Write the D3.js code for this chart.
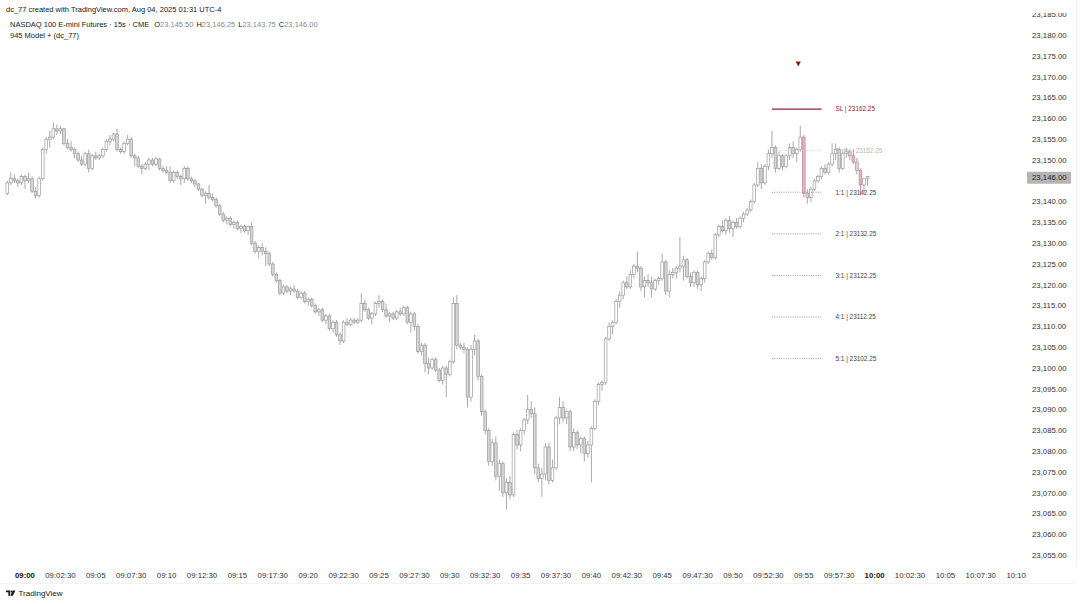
<!DOCTYPE html>
<html><head><meta charset="utf-8">
<script src="https://cdn.jsdelivr.net/npm/d3@7"></script>
<style>
html,body{margin:0;padding:0;background:#fff;}
svg{display:block;font-family:"Liberation Sans",Arial,sans-serif;}
</style></head>
<body>
<svg id="chart" width="1080" height="604"></svg>
<script>
// ---------- DATA ----------
const headerLine = "dc_77 created with TradingView.com, Aug 04, 2025 01:31 UTC-4";
const symbolTitle = "NASDAQ 100 E-mini Futures · 15s · CME";
const lastOHLC = [["O","23,145.50"],["H","23,146.25"],["L","23,143.75"],["C","23,146.00"]];
const studyTitle = "945 Model + (dc_77)";
const firstBar = "08:58:45";      // bars every 15 seconds
const barSeconds = 15;
// [open, high, low, close]
const ohlc = [
[23142.0,23145.0,23141.5,23144.5],[23144.5,23147.0,23144.0,23145.5],[23145.5,23146.5,23144.5,23145.0],[23145.0,23145.5,23143.5,23144.5],[23144.5,23146.5,23144.0,23146.0],
[23146.0,23146.5,23143.0,23145.0],[23145.0,23147.0,23144.5,23145.5],[23145.5,23146.0,23142.0,23142.5],[23142.5,23143.5,23140.75,23141.5],[23141.5,23146.0,23141.0,23145.5],
[23145.5,23153.0,23145.0,23152.5],[23152.5,23155.5,23151.5,23155.0],[23155.0,23157.0,23153.0,23155.5],[23155.5,23159.0,23155.0,23157.5],[23157.5,23158.5,23156.0,23157.0],
[23157.0,23158.25,23156.25,23157.5],[23157.5,23157.75,23153.5,23154.0],[23154.0,23155.0,23152.5,23153.0],[23153.0,23154.5,23152.0,23152.5],[23152.5,23153.0,23150.5,23151.5],
[23151.5,23152.0,23149.5,23150.0],[23150.0,23151.0,23148.5,23149.0],[23149.0,23152.0,23148.5,23151.5],[23151.5,23152.5,23147.0,23148.0],[23148.0,23151.5,23147.5,23151.0],
[23151.0,23152.0,23150.0,23150.5],[23150.5,23151.5,23150.0,23151.0],[23151.0,23153.0,23150.5,23152.5],[23152.5,23155.0,23152.0,23154.5],[23154.5,23156.0,23153.5,23155.0],
[23155.0,23156.5,23154.5,23156.25],[23156.25,23157.5,23152.0,23152.5],[23152.5,23153.0,23151.5,23152.0],[23152.0,23154.5,23151.5,23154.0],[23154.0,23156.0,23153.5,23155.0],
[23155.0,23155.5,23150.5,23151.0],[23151.0,23151.5,23148.5,23150.5],[23150.5,23151.0,23148.0,23148.5],[23148.5,23149.0,23146.5,23148.0],[23148.0,23149.5,23147.5,23149.0],
[23149.0,23150.5,23147.5,23150.0],[23150.0,23150.5,23148.5,23149.0],[23149.0,23150.75,23148.5,23150.25],[23150.25,23150.5,23147.5,23148.0],[23148.0,23148.5,23147.0,23147.5],
[23147.5,23148.5,23146.75,23147.0],[23147.0,23148.5,23144.5,23145.0],[23145.0,23147.5,23144.5,23147.0],[23147.0,23147.5,23145.5,23146.0],[23146.0,23146.5,23144.0,23145.5],
[23145.5,23148.5,23144.5,23148.0],[23148.0,23148.5,23145.0,23145.5],[23145.5,23146.0,23144.5,23145.0],[23145.0,23145.5,23143.5,23144.25],[23144.25,23144.5,23142.5,23143.0],
[23143.0,23143.25,23141.0,23141.5],[23141.5,23142.5,23139.5,23142.0],[23142.0,23144.0,23140.5,23141.0],[23141.0,23142.0,23140.0,23140.5],[23140.5,23141.0,23138.5,23139.0],
[23139.0,23139.5,23136.5,23137.0],[23137.0,23137.5,23135.0,23135.5],[23135.5,23136.5,23134.5,23136.0],[23136.0,23136.5,23134.0,23134.5],[23134.5,23135.5,23133.5,23135.0],
[23135.0,23135.5,23133.0,23133.5],[23133.5,23134.5,23132.5,23134.0],[23134.0,23134.5,23132.5,23133.0],[23133.0,23134.25,23132.0,23134.0],[23134.0,23135.0,23129.5,23130.0],
[23130.0,23130.5,23127.5,23128.0],[23128.0,23129.5,23126.5,23129.0],[23129.0,23130.0,23127.0,23128.0],[23128.0,23129.0,23124.5,23127.5],[23127.5,23128.0,23124.5,23125.0],
[23125.0,23125.5,23122.0,23122.5],[23122.5,23123.0,23120.5,23121.0],[23121.0,23121.5,23117.5,23118.0],[23118.0,23120.0,23117.5,23119.5],[23119.5,23120.0,23118.0,23118.5],
[23118.5,23119.5,23117.5,23119.0],[23119.0,23120.0,23118.0,23118.5],[23118.5,23119.0,23116.5,23117.0],[23117.0,23118.5,23116.5,23118.0],[23118.0,23118.5,23115.5,23116.0],
[23116.0,23117.0,23115.0,23116.5],[23116.5,23117.0,23114.5,23115.0],[23115.0,23115.5,23113.0,23113.5],[23113.5,23114.5,23112.5,23114.0],[23114.0,23114.5,23111.0,23111.5],
[23111.5,23113.0,23110.5,23112.5],[23112.5,23113.0,23109.0,23109.5],[23109.5,23111.5,23108.5,23111.0],[23111.0,23111.5,23107.5,23108.0],[23108.0,23108.5,23105.5,23106.5],
[23106.5,23111.5,23106.0,23111.0],[23111.0,23112.0,23110.0,23110.5],[23110.5,23112.0,23110.0,23111.5],[23111.5,23112.0,23110.5,23111.0],[23111.0,23112.0,23110.5,23111.5],
[23111.5,23118.0,23111.0,23115.5],[23115.5,23116.5,23113.5,23114.0],[23114.0,23114.5,23111.5,23112.0],[23112.0,23113.5,23110.5,23113.0],[23113.0,23116.0,23112.5,23115.5],
[23115.5,23117.5,23114.5,23116.0],[23116.0,23116.5,23113.5,23114.0],[23114.0,23115.5,23112.0,23112.5],[23112.5,23113.5,23111.0,23113.0],[23113.0,23113.5,23111.5,23112.0],
[23112.0,23114.0,23111.5,23113.5],[23113.5,23114.5,23112.5,23113.0],[23113.0,23115.0,23112.5,23114.5],[23114.5,23115.0,23110.5,23111.0],[23111.0,23113.5,23108.5,23113.0],
[23113.0,23113.5,23109.0,23110.0],[23110.0,23110.5,23103.5,23104.0],[23104.0,23106.0,23103.0,23105.5],[23105.5,23106.0,23099.0,23101.0],[23101.0,23102.5,23098.5,23100.0],
[23100.0,23102.5,23099.5,23102.0],[23102.0,23102.5,23099.0,23099.5],[23099.5,23100.0,23096.5,23097.0],[23097.0,23100.5,23096.0,23100.0],[23100.0,23100.5,23093.0,23098.5],
[23098.5,23102.0,23098.0,23101.5],[23101.5,23117.0,23101.0,23115.5],[23115.5,23117.5,23104.5,23105.5],[23105.5,23106.0,23104.5,23105.0],[23105.0,23106.0,23103.5,23104.5],
[23104.5,23105.0,23090.5,23093.0],[23093.0,23105.5,23092.0,23104.5],[23104.5,23108.0,23103.0,23106.5],[23106.5,23107.0,23097.0,23098.0],[23098.0,23098.5,23088.5,23089.5],
[23089.5,23090.0,23084.0,23085.0],[23085.0,23085.5,23076.5,23077.5],[23077.5,23083.0,23076.5,23082.0],[23082.0,23083.5,23073.0,23074.0],[23074.0,23078.0,23070.5,23077.0],
[23077.0,23077.5,23069.0,23070.0],[23070.0,23073.5,23066.0,23072.5],[23072.5,23074.0,23068.5,23069.5],[23069.5,23084.5,23069.0,23084.0],[23084.0,23085.0,23080.5,23081.5],
[23081.5,23085.5,23080.0,23085.0],[23085.0,23088.0,23084.0,23087.5],[23087.5,23093.5,23086.5,23090.0],[23090.0,23092.0,23088.0,23089.0],[23089.0,23090.5,23074.5,23076.0],
[23076.0,23077.0,23072.5,23073.5],[23073.5,23076.0,23069.0,23074.5],[23074.5,23082.0,23073.0,23081.0],[23081.0,23082.0,23072.0,23073.0],[23073.0,23078.0,23072.5,23076.0],
[23076.0,23088.5,23075.5,23088.0],[23088.0,23093.0,23086.5,23090.5],[23090.5,23092.0,23087.0,23088.0],[23088.0,23090.0,23086.5,23089.5],[23089.5,23090.0,23080.0,23081.0],
[23081.0,23085.5,23080.0,23084.5],[23084.5,23085.0,23080.5,23081.5],[23081.5,23083.5,23079.5,23083.0],[23083.0,23083.5,23077.5,23079.5],[23079.5,23082.5,23078.5,23081.5],
[23081.5,23086.0,23072.5,23085.5],[23085.5,23092.5,23085.0,23092.0],[23092.0,23096.5,23091.0,23096.0],[23096.0,23097.0,23094.5,23096.5],[23096.5,23107.5,23096.0,23107.0],
[23107.0,23111.0,23106.5,23110.0],[23110.0,23111.5,23108.0,23111.0],[23111.0,23116.5,23110.5,23116.0],[23116.0,23118.5,23114.5,23117.5],[23117.5,23121.0,23116.5,23120.5],
[23120.5,23122.0,23119.0,23119.5],[23119.5,23123.5,23119.0,23122.5],[23122.5,23125.0,23121.5,23124.5],[23124.5,23128.0,23123.0,23124.0],[23124.0,23124.5,23118.5,23119.5],
[23119.5,23122.0,23117.0,23121.0],[23121.0,23122.5,23119.5,23120.5],[23120.5,23122.0,23117.0,23119.0],[23119.0,23121.5,23118.5,23121.0],[23121.0,23122.0,23120.0,23121.5],
[23121.5,23127.5,23121.0,23125.5],[23125.5,23126.0,23117.5,23118.5],[23118.5,23123.5,23117.0,23122.5],[23122.5,23124.0,23121.5,23123.0],[23123.0,23124.5,23121.5,23124.0],
[23124.0,23131.5,23123.0,23124.5],[23124.5,23127.0,23121.0,23126.0],[23126.0,23126.5,23121.5,23122.0],[23122.0,23123.0,23119.5,23120.5],[23120.5,23123.5,23119.5,23123.0],
[23123.0,23123.5,23119.0,23120.0],[23120.0,23122.0,23118.5,23121.5],[23121.5,23126.0,23120.5,23125.5],[23125.5,23128.0,23125.0,23127.5],[23127.5,23128.5,23126.0,23126.5],
[23126.5,23132.5,23126.0,23132.0],[23132.0,23134.5,23131.5,23134.0],[23134.0,23135.5,23132.5,23133.0],[23133.0,23136.0,23132.0,23135.5],[23135.5,23136.5,23132.5,23133.5],
[23133.5,23135.5,23131.5,23135.0],[23135.0,23136.0,23133.5,23134.0],[23134.0,23136.5,23133.5,23136.0],[23136.0,23137.5,23135.0,23137.0],[23137.0,23138.5,23136.5,23138.0],
[23138.0,23140.5,23137.5,23140.0],[23140.0,23144.5,23139.5,23144.0],[23144.0,23149.5,23143.5,23148.0],[23148.0,23149.0,23143.0,23144.5],[23144.5,23149.0,23144.0,23148.5],
[23148.5,23152.5,23147.5,23151.5],[23151.5,23157.0,23150.5,23153.0],[23153.0,23153.5,23147.0,23148.0],[23148.0,23152.0,23147.5,23151.0],[23151.0,23151.5,23147.5,23148.5],
[23148.5,23151.5,23148.0,23151.0],[23151.0,23154.0,23150.0,23153.0],[23153.0,23154.5,23150.5,23151.5],[23151.5,23153.0,23149.5,23152.5],[23152.5,23158.25,23152.0,23155.5],
[23155.5,23156.0,23141.0,23142.0],[23142.0,23143.0,23139.5,23141.0],[23141.0,23143.5,23140.0,23143.0],[23143.0,23145.5,23142.5,23145.0],[23145.0,23146.5,23144.5,23146.0],
[23146.0,23148.5,23145.5,23148.0],[23148.0,23149.0,23146.5,23147.0],[23147.0,23149.5,23146.5,23149.0],[23149.0,23154.0,23148.5,23151.5],[23151.5,23154.0,23150.0,23152.5],
[23152.5,23153.0,23147.0,23148.0],[23148.0,23152.0,23147.5,23151.5],[23151.5,23153.0,23150.5,23152.0],[23152.0,23152.5,23150.0,23151.0],[23151.0,23152.5,23149.0,23149.5],
[23149.5,23150.5,23146.5,23147.5],[23147.5,23148.0,23141.5,23144.0],[23144.0,23145.5,23142.0,23145.5],[23145.5,23146.25,23143.75,23146.0]
];
const highlightedBars = [225, 239, 241];   // bars painted red by the study (index into ohlc)
const signalBar = 224;                        // red arrow above this bar
const tradeLevels = [
  {label:"SL", price:23162.25, kind:"sl"},
  {label:"Entry", price:23152.25, kind:"entry"},
  {label:"1:1", price:23142.25, kind:"tp"},
  {label:"2:1", price:23132.25, kind:"tp"},
  {label:"3:1", price:23122.25, kind:"tp"},
  {label:"4:1", price:23112.25, kind:"tp"},
  {label:"5:1", price:23102.25, kind:"tp"}
];
const levelStart = "09:52:45", levelEnd = "09:56:15";
const priceTicks = [23055,23060,23065,23070,23075,23080,23085,23090,23095,23100,23105,23110,23115,23120,23125,23130,23135,23140,23150,23155,23160,23165,23170,23175,23180,23185];
const lastPrice = 23146.00;
const timeTicks = ["09:00","09:02:30","09:05","09:07:30","09:10","09:12:30","09:15","09:17:30","09:20","09:22:30","09:25","09:27:30","09:30","09:32:30","09:35","09:37:30","09:40","09:42:30","09:45","09:47:30","09:50","09:52:30","09:55","09:57:30","10:00","10:02:30","10:05","10:07:30","10:10"];
const boldTimeTicks = ["09:00","10:00"];

// ---------- SCALES ----------
const svg = d3.select("#chart");
const parseT = s => { const p = s.split(":").map(Number); return new Date(Date.UTC(2025,7,4,p[0],p[1],p[2]||0)); };
const x = d3.scaleUtc().domain([parseT("09:00"), parseT("10:00")]).range([25, 874.6]);
const y = d3.scaleLinear().domain([23055, 23180]).range([555.2, 35.2]);
const t0 = parseT(firstBar);
const barTime = i => new Date(t0.getTime() + i*barSeconds*1000);
const bars = ohlc.map((d,i)=>({i, t:barTime(i), o:d[0], h:d[1], l:d[2], c:d[3]}));

// ---------- HEADER ----------
const hdr = svg.append("g").attr("font-size", 7.5).attr("fill", "#131722");
hdr.append("text").attr("x", 6).attr("y", 12).text(headerLine);
const l2 = hdr.append("text").attr("x", 10).attr("y", 27).attr("text-anchor","start");
l2.append("tspan").attr("x", 10).text(symbolTitle);
lastOHLC.forEach(([k,v],j)=>{
  l2.append("tspan").attr("dx", j===0 ? 5 : 3).text(k);
  l2.append("tspan").attr("fill","#8a8a8a").text(v);
});
hdr.append("text").attr("x", 10).attr("y", 38).text(studyTitle);

// ---------- CANDLES ----------
svg.append("clipPath").attr("id","clipPlot").append("rect").attr("x",0).attr("y",0).attr("width",1024).attr("height",566);
const plot = svg.append("g").attr("clip-path", "url(#clipPlot)");
const bw = 2.7;
const isRed = d => highlightedBars.includes(d.i);
plot.selectAll("line.wick").data(bars).join("line")
  .attr("x1", d=>x(d.t)).attr("x2", d=>x(d.t))
  .attr("y1", d=>y(d.h)).attr("y2", d=>y(d.l))
  .attr("stroke", d=>isRed(d) ? "#cf8d98" : "#a9a9a9").attr("stroke-width", 1);
plot.selectAll("rect.body").data(bars).join("rect")
  .attr("x", d=>x(d.t)-bw/2)
  .attr("y", d=>y(Math.max(d.o,d.c)))
  .attr("width", bw)
  .attr("height", d=>Math.max(0.8, Math.abs(y(d.o)-y(d.c))))
  .attr("fill", d=> isRed(d) ? "#e5b3bb" : (d.c >= d.o ? "#ffffff" : "#d6d6d6"))
  .attr("stroke", d=> isRed(d) ? "#c98591" : "#9c9c9c").attr("stroke-width", 0.7);

// signal arrow
const sb = bars[signalBar];
const ax = x(sb.t) - 2, ay = 64;
svg.append("path").attr("d", `M${ax-2.6},${ay-2.5} L${ax+2.6},${ay-2.5} L${ax},${ay+2.5} Z`).attr("fill", "#8b1d10");

// ---------- TRADE LEVELS ----------
const lx1 = x(parseT(levelStart)), lx2 = x(parseT(levelEnd));
const lv = svg.append("g");
tradeLevels.forEach(L=>{
  const yy = y(L.price);
  lv.append("line").attr("x1", lx1).attr("x2", lx2).attr("y1", yy).attr("y2", yy)
    .attr("stroke", L.kind==="sl" ? "#8e2236" : (L.kind==="entry" ? "#c8c8c8" : "#8a7a80"))
    .attr("stroke-width", L.kind==="sl" ? 1.3 : 0.8)
    .attr("stroke-dasharray", L.kind==="sl" ? null : "1,1.3");
  lv.append("text").attr("x", lx2 + 14).attr("y", yy + 2.4)
    .attr("font-size", 6.4)
    .attr("fill", L.kind==="sl" ? "#8e2236" : (L.kind==="entry" ? "#b8b8b8" : "#444"))
    .text(`${L.label} | ${L.price.toFixed(2)}`);
});

// ---------- PRICE AXIS ----------
const fmt = d3.format(",.2f");
svg.append("clipPath").attr("id","clipAxis").append("rect").attr("x",1025).attr("y",13).attr("width",55).attr("height",555);
const pa = svg.append("g").attr("font-size", 7.8).attr("fill", "#333").attr("clip-path","url(#clipAxis)");
pa.selectAll("text").data(priceTicks).join("text")
  .attr("x", 1032).attr("y", d=>y(d)+2.8).text(d=>fmt(d));
const ly = y(lastPrice) + 1;
svg.append("rect").attr("x", 1027).attr("y", ly-6).attr("width", 44).attr("height", 12).attr("fill", "#b5b5b5").attr("rx", 1);
svg.append("text").attr("x", 1032).attr("y", ly+2.8).attr("font-size", 7.8).attr("fill", "#222").text(fmt(lastPrice));
svg.append("line").attr("x1",1076.5).attr("x2",1076.5).attr("y1",0).attr("y2",566).attr("stroke","#eeeeee");

// ---------- TIME AXIS ----------
const ta = svg.append("g").attr("font-size", 7.8).attr("fill", "#333");
ta.selectAll("text").data(timeTicks).join("text")
  .attr("x", d=>x(parseT(d))).attr("y", 578).attr("text-anchor","middle")
  .attr("font-weight", d=>boldTimeTicks.includes(d) ? "bold" : null)
  .attr("fill", d=>boldTimeTicks.includes(d) ? "#111" : "#333")
  .text(d=>d);
svg.append("line").attr("x1",0).attr("x2",1076).attr("y1",583.5).attr("y2",583.5).attr("stroke","#f2f2f2");

// ---------- FOOTER LOGO ----------
const lg = svg.append("g").attr("fill", "#131722");
lg.append("path").attr("d","M6,590.5 h4.2 v5.2 h-1.8 v-3.4 h-2.4 Z");
lg.append("circle").attr("cx",11.6).attr("cy",591.5).attr("r",1.0);
lg.append("path").attr("d","M12.8,590.5 h2.6 l-2.6,5.2 h-2.4 Z");
lg.append("text").attr("x", 18.5).attr("y", 596.3).attr("font-size", 8).text("TradingView");
</script>
</body></html>
